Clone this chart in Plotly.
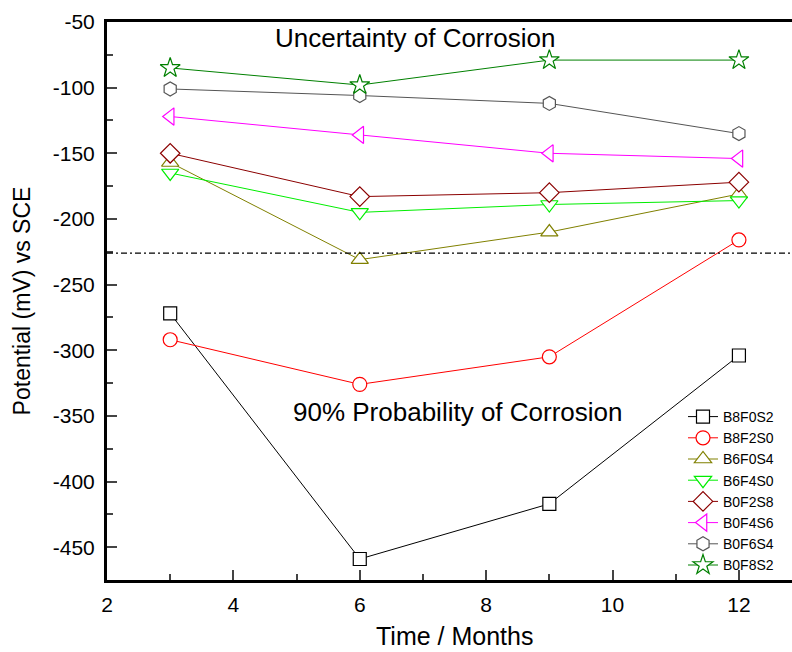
import plotly.graph_objects as go

months = [3, 6, 9, 12]
names = ["B8F0S2", "B8F2S0", "B6F0S4", "B6F4S0", "B0F2S8", "B0F4S6", "B0F6S4", "B0F8S2"]
b8f0s2 = [-272, -459, -417, -304]
b8f2s0 = [-292, -326, -305, -216]
b6f0s4 = [-157, -231, -210, -181]
b6f4s0 = [-165, -195, -189, -186]
b0f2s8 = [-150, -183, -180, -172]
b0f4s6 = [-122, -136, -150, -154]
b0f6s4 = [-101, -106, -112, -135]
b0f8s2 = [-85, -98, -79, -79]
threshold = -226
x_ticks = [2, 4, 6, 8, 10, 12]
y_ticks = [-450, -400, -350, -300, -250, -200, -150, -100, -50]

series = [b8f0s2, b8f2s0, b6f0s4, b6f4s0, b0f2s8, b0f4s6, b0f6s4, b0f8s2]
colors = ["#000000", "#FF0000", "#808000", "#00EE00", "#8B0000", "#FF00FF", "#555555", "#008000"]
symbols = ["square", "circle", "triangle-up", "triangle-down", "diamond", "triangle-left", "hexagon", "star"]
sizes = [13, 14, 15, 15, 15, 15, 14, 15]

FONT = "Liberation Sans, Arial, sans-serif"

fig = go.Figure()
for n, s, c, sym, sz in zip(names, series, colors, symbols, sizes):
    fig.add_trace(go.Scatter(
        x=months, y=s, name=n, mode="lines+markers",
        line=dict(color=c, width=1),
        marker=dict(symbol=sym, size=sz, color="white", line=dict(color=c, width=1.2)),
    ))

fig.add_shape(type="line", xref="paper", x0=0, x1=1, yref="y", y0=threshold, y1=threshold,
              line=dict(color="black", width=1.2, dash="6px,3px,2px,3px"))

fig.add_annotation(x=(415 - 107) / 685, y=(580 - 38) / 558, xref="paper", yref="paper",
                   xanchor="center", yanchor="middle",
                   text="Uncertainty of Corrosion", showarrow=False,
                   font=dict(size=26, color="black", family=FONT))
fig.add_annotation(x=(458 - 107) / 685, y=(580 - 412) / 558, xref="paper", yref="paper",
                   xanchor="center", yanchor="middle",
                   text="90% Probability of Corrosion", showarrow=False,
                   font=dict(size=26, color="black", family=FONT))
fig.add_annotation(x=(454 - 107) / 685, y=(580 - 636) / 558, xref="paper", yref="paper",
                   xanchor="center", yanchor="middle",
                   text="Time / Months", showarrow=False,
                   font=dict(size=25, color="black", family=FONT))

fig.update_layout(
    width=792, height=652,
    margin=dict(l=107, r=0, t=22, b=72),
    plot_bgcolor="white", paper_bgcolor="white",
    font=dict(family=FONT, color="black"),
    legend=dict(x=(683 - 107) / 685, y=(580 - 401) / 558, xanchor="left", yanchor="top",
                bgcolor="rgba(0,0,0,0)", font=dict(size=14, family=FONT),
                tracegroupgap=0, itemwidth=30),
    xaxis=dict(range=[2, 12.84], tickvals=x_ticks, ticktext=[str(v) for v in x_ticks],
               ticks="inside", ticklen=10, automargin=False,
               tickwidth=2, showline=True, linewidth=3, linecolor="black", mirror=True,
               showgrid=False, zeroline=False, tickfont=dict(size=21), ticklabelstandoff=4,
               minor=dict(dtick=1, tick0=2, ticks="inside", ticklen=6, tickwidth=2, showgrid=False)),
    yaxis=dict(range=[-475, -50], tickvals=y_ticks, ticktext=["-" + str(-v) for v in y_ticks],
               ticks="inside", ticklen=10, tickwidth=2, showline=True, linewidth=3, linecolor="black",
               showgrid=False, zeroline=False, tickfont=dict(size=21), ticklabelstandoff=5,
               automargin=False,
               minor=dict(dtick=25, tick0=-50, ticks="inside", ticklen=6, tickwidth=2, showgrid=False),
               title=dict(text="Potential (mV) vs SCE", font=dict(size=23), standoff=16)),
)

fig.write_html("out.html")
